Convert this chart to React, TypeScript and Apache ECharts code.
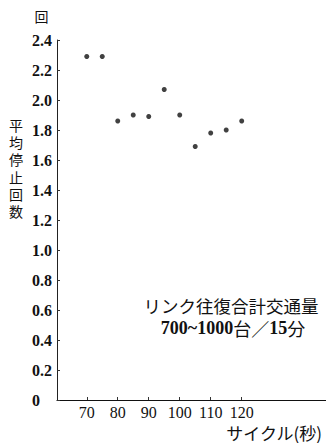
import React, { useEffect, useRef } from "react";
import * as echarts from "echarts";

const cycles = [70, 75, 80, 85, 90, 95, 100, 105, 110, 115, 120];
const stops = [2.29, 2.29, 1.86, 1.9, 1.89, 2.07, 1.9, 1.69, 1.78, 1.8, 1.86];
const xTicks = [70, 80, 90, 100, 110, 120];
const yAxisName = "平均停止回数";
const yUnit = "回";
const xAxisName = "サイクル(秒)";
const noteLine1 = "リンク往復合計交通量";
const noteNum = "700~1000";
const noteRest1 = "台／";
const noteNum2 = "15";
const noteRest2 = "分";

const JP = '"Noto Sans CJK JP", sans-serif';
const NUM = '"Liberation Serif", "DejaVu Serif", serif';

export default function App() {
  const ref = useRef<HTMLDivElement>(null);
  useEffect(() => {
    if (!ref.current) return;
    const chart = echarts.init(ref.current, null, { renderer: "svg" });
    const nameChars = yAxisName.split("").map((ch, i) => ({
      type: "text",
      x: 16,
      y: 125 + i * 17.2,
      style: {
        text: ch,
        fontFamily: JP,
        fontSize: 14,
        lineHeight: 14,
        fill: "#111",
        align: "center",
        verticalAlign: "middle",
      },
    }));
    chart.setOption({
      animation: false,
      backgroundColor: "#ffffff",
      grid: { left: 57, top: 40, right: 0, bottom: 43, containLabel: false },
      xAxis: {
        type: "value",
        min: 60.4,
        max: 147.2,
        axisLine: { show: true, lineStyle: { color: "#111", width: 1.2 } },
        axisTick: {
          show: true,
          inside: true,
          length: 3,
          customValues: xTicks,
          lineStyle: { color: "#333" },
        },
        axisLabel: {
          customValues: xTicks,
          margin: 4,
          fontFamily: NUM,
          fontSize: 16,
          color: "#111",
        },
        splitLine: { show: false },
      },
      yAxis: {
        type: "value",
        min: 0,
        max: 2.4,
        interval: 0.2,
        axisLine: { show: true, lineStyle: { color: "#222", width: 1 } },
        axisTick: { show: true, inside: true, length: 3, lineStyle: { color: "#333" } },
        axisLabel: {
          align: "left",
          margin: 25,
          fontFamily: NUM,
          fontWeight: "bold",
          fontSize: 16,
          color: "#111",
          formatter: (v: number) => (v === 0 ? "0" : v.toFixed(1)),
        },
        splitLine: { show: false },
      },
      series: [
        {
          type: "scatter",
          data: cycles.map((c, i) => [c, stops[i]]),
          symbol: "circle",
          symbolSize: 5,
          itemStyle: { color: "#111" },
        },
      ],
      graphic: [
        {
          type: "text",
          x: 41.5,
          y: 16,
          style: {
            text: yUnit,
            fontFamily: JP,
            fontSize: 14,
            fill: "#111",
            align: "center",
            verticalAlign: "middle",
          },
        },
        ...nameChars,
        {
          type: "text",
          x: 231,
          y: 305,
          style: {
            text: noteLine1,
            fontFamily: JP,
            fontSize: 17.5,
            lineHeight: 18,
            fill: "#111",
            align: "center",
            verticalAlign: "middle",
          },
        },
        {
          type: "text",
          x: 233,
          y: 328,
          style: {
            text: `{n|${noteNum}}{j|${noteRest1}}{n|${noteNum2}}{j|${noteRest2}}`,
            align: "center",
            verticalAlign: "middle",
            rich: {
              n: { fontFamily: NUM, fontWeight: "bold", fontSize: 18, lineHeight: 18, fill: "#111" },
              j: { fontFamily: JP, fontSize: 18, lineHeight: 18, fill: "#111" },
            },
          },
        },
        {
          type: "text",
          x: 322,
          y: 432,
          style: {
            text: xAxisName,
            fontFamily: JP,
            fontSize: 17,
            lineHeight: 17,
            fill: "#111",
            align: "right",
            verticalAlign: "middle",
          },
        },
      ],
    });
    return () => chart.dispose();
  }, []);
  return (
    <div
      ref={ref}
      style={{ position: "fixed", left: 0, top: 0, width: 326, height: 443, background: "#fff" }}
    />
  );
}
